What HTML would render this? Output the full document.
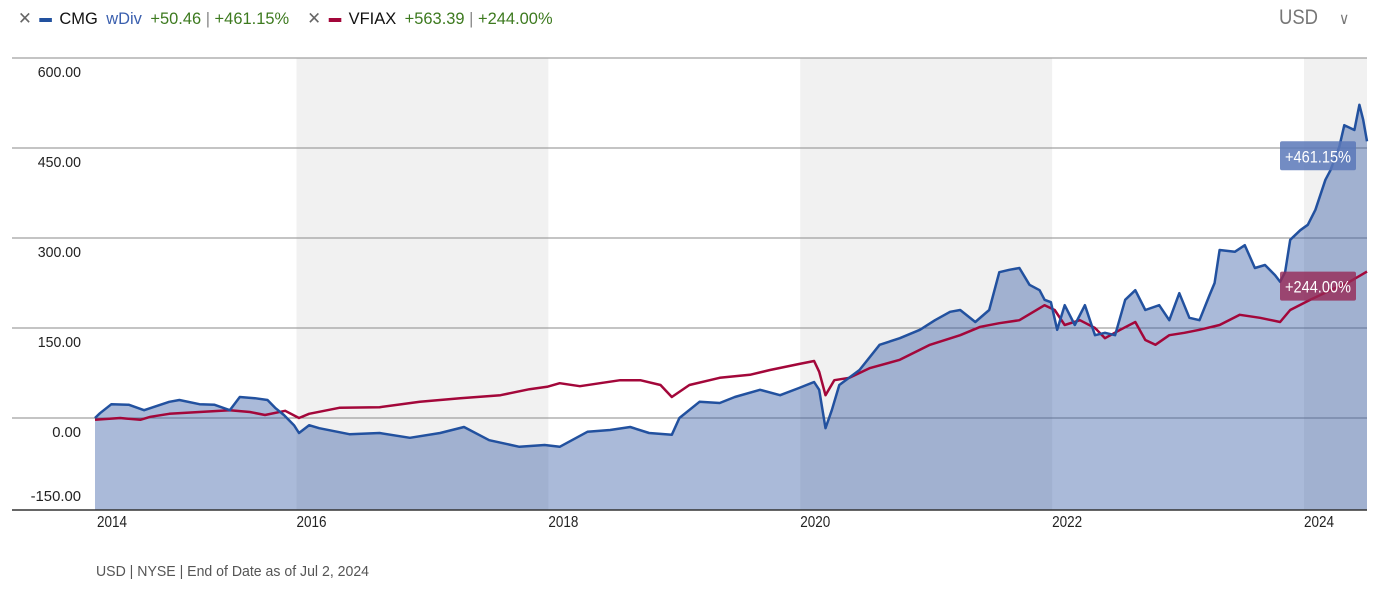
<!DOCTYPE html>
<html><head><meta charset="utf-8">
<style>
body{margin:0;width:1387px;height:591px;background:#fff;overflow:hidden;font-family:"Liberation Sans Narrow","Liberation Sans",sans-serif;}
svg{position:absolute;left:0;top:0}
</style></head>
<body>
<svg id="chart" width="1387" height="591"></svg>
<script>
const cmgYears=[2014.40,2014.44,2014.53,2014.67,2014.79,2014.99,2015.07,2015.23,2015.35,2015.47,2015.55,2015.67,2015.77,2015.83,2015.90,2015.98,2016.02,2016.10,2016.18,2016.42,2016.66,2016.90,2017.14,2017.33,2017.53,2017.77,2017.97,2018.09,2018.31,2018.49,2018.65,2018.80,2018.98,2019.04,2019.20,2019.36,2019.48,2019.68,2019.84,2019.99,2020.11,2020.15,2020.20,2020.25,2020.31,2020.47,2020.63,2020.79,2020.95,2021.07,2021.19,2021.27,2021.39,2021.50,2021.58,2021.66,2021.74,2021.82,2021.90,2021.94,2021.99,2022.04,2022.10,2022.18,2022.26,2022.34,2022.42,2022.50,2022.58,2022.66,2022.74,2022.85,2022.93,2023.01,2023.09,2023.17,2023.25,2023.29,2023.33,2023.45,2023.53,2023.61,2023.69,2023.77,2023.81,2023.85,2023.89,2023.97,2024.03,2024.09,2024.17,2024.21,2024.28,2024.32,2024.40,2024.44,2024.47,2024.50];
const cmgValues=[0,8,23,22,13,27,30,23,22,13,35,33,30,17,5,-12,-25,-12,-17,-27,-25,-33,-25,-15,-37,-48,-45,-48,-23,-20,-15,-25,-28,0,27,25,35,47,38,50,60,47,-17,13,55,80,122,133,147,163,177,180,160,180,243,247,250,222,213,197,193,147,188,155,188,138,142,138,197,213,180,188,163,208,167,163,205,225,280,277,288,250,255,238,227,243,297,313,322,347,397,413,452,488,480,522,497,461.15];
const vfiaxYears=[2014.40,2014.60,2014.76,2014.84,2014.99,2015.23,2015.47,2015.63,2015.75,2015.91,2016.02,2016.10,2016.34,2016.66,2016.98,2017.30,2017.62,2017.85,2017.99,2018.09,2018.25,2018.41,2018.57,2018.73,2018.89,2018.98,2019.12,2019.36,2019.60,2019.76,2019.99,2020.11,2020.15,2020.20,2020.27,2020.39,2020.55,2020.79,2021.03,2021.27,2021.43,2021.58,2021.74,2021.94,2022.02,2022.10,2022.22,2022.34,2022.42,2022.54,2022.66,2022.74,2022.82,2022.93,2023.05,2023.17,2023.33,2023.49,2023.65,2023.81,2023.89,2024.05,2024.21,2024.36,2024.50];
const vfiaxValues=[-3,0,-3,2,7,10,13,10,5,12,0,7,17,18,27,33,38,48,52,58,53,58,63,63,55,35,55,67,72,80,90,95,77,38,63,67,83,97,122,138,152,158,163,188,180,155,163,150,133,147,160,130,122,138,142,147,155,172,167,160,180,197,213,227,244];
const yTicks=[600,450,300,150,0,-150];
const yTickLabels=["600.00","450.00","300.00","150.00","0.00","-150.00"];
const xTickYears=[2014,2016,2018,2020,2022,2024];
const shadeBands=[[2016,2018],[2020,2022],[2024,2024.5]];

const NS="http://www.w3.org/2000/svg";
const svg=document.getElementById('chart');
const X0=95,X1=1367,T0=2014.40,T1=2024.50;
const x=t=>X0+(t-T0)/(T1-T0)*(X1-X0);
const y=v=>418-v*90/150;
function mk(tag,attrs,parent){const e=document.createElementNS(NS,tag);for(const k in attrs)e.setAttribute(k,attrs[k]);(parent||svg).appendChild(e);return e;}

shadeBands.forEach(b=>{
  const r=mk('rect',{x:x(b[0]),y:58,width:x(b[1])-x(b[0]),height:452,fill:'#f1f1f1'});
  
  
});
yTicks.forEach((v,i)=>{
  if(v>-150){const l=mk('line',{x1:12,x2:1367,y1:y(v),y2:y(v),stroke:'#8a8a8a','stroke-width':1});
  
  }
  const ty=v>-150?y(v)+19:y(v)-7;
  const lab=yTickLabels[i];
  const t=mk('text',{x:81,y:ty,'text-anchor':'end','font-size':15,fill:'#222',textLength:lab.length*7.2,lengthAdjust:'spacingAndGlyphs'});
  t.textContent=lab;
  
  
});
let pts=cmgYears.map((t,i)=>x(t).toFixed(1)+','+y(cmgValues[i]).toFixed(1));
const area=mk('polygon',{points:pts.join(' ')+' '+X1+',510 '+X0+',510',fill:'#2a53a0','fill-opacity':0.4});


const vl=mk('polyline',{points:vfiaxYears.map((t,i)=>x(t).toFixed(1)+','+y(vfiaxValues[i]).toFixed(1)).join(' '),fill:'none',stroke:'#a3073a','stroke-width':2.5,'stroke-linejoin':'round'});


const cl=mk('polyline',{points:pts.join(' '),fill:'none',stroke:'#22519f','stroke-width':2.5,'stroke-linejoin':'round'});


const ax=mk('line',{x1:12,x2:1367,y1:510,y2:510,stroke:'#333','stroke-width':1.5});


xTickYears.forEach(yr=>{
  const t=mk('text',{x:Math.max(X0+2,x(yr)),y:527,'font-size':16,fill:'#222',textLength:30,lengthAdjust:'spacingAndGlyphs'});
  t.textContent=String(yr);
  
  
});
function badge(val,top,color,name){
  const g=mk('g',{});
  
  
  mk('rect',{x:1280,y:top,width:76,height:29,rx:2,fill:color},g);
  const t=mk('text',{x:1318,y:top+21,'text-anchor':'middle','font-size':17,fill:'#fff',textLength:66,lengthAdjust:'spacingAndGlyphs'});
  g.appendChild(t);
  t.textContent='+'+val.toFixed(2)+'%';
}
const cv=cmgValues[cmgValues.length-1], vv=vfiaxValues[vfiaxValues.length-1];
badge(cv,y(cv),'rgba(90,120,185,0.85)','cmg-end-badge');
badge(vv,y(vv),'rgba(150,40,85,0.8)','vfiax-end-badge');
</script>
<div style="position:absolute;left:18px;top:9px;font-size:17px;white-space:nowrap;transform:scaleX(0.968);transform-origin:left top;">
  <span style="color:#666">✕</span>
  <span style="display:inline-block;width:13px;height:4px;background:#22519f;vertical-align:middle;margin:0 3px"></span>
  <span style="color:#111">CMG</span>
  <span style="color:#3a5fae;margin-left:4px">wDiv</span>
  <span style="color:#3d7a1f;margin-left:4px">+50.46 <span style="color:#888">|</span> +461.15%</span>
  <span style="color:#666;margin-left:14px">✕</span>
  <span style="display:inline-block;width:13px;height:4px;background:#a3073a;vertical-align:middle;margin:0 3px"></span>
  <span style="color:#111">VFIAX</span>
  <span style="color:#3d7a1f;margin-left:4px">+563.39 <span style="color:#888">|</span> +244.00%</span>
</div>
<div style="position:absolute;left:1279px;top:6px;font-size:21px;color:#777;transform:scaleX(0.88);transform-origin:left top;">USD <span style="margin-left:18px;font-size:16px">∨</span></div>
<div style="position:absolute;left:96px;top:563px;font-size:15px;color:#555;transform:scaleX(0.94);transform-origin:left top;">USD | NYSE | End of Date as of Jul 2, 2024</div>
</body></html>
